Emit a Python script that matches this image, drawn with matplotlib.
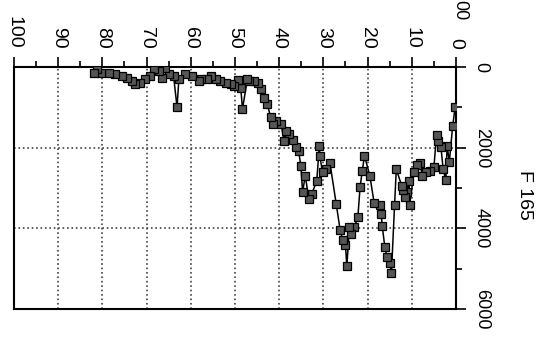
import matplotlib.pyplot as plt
from matplotlib.ticker import MultipleLocator

# horizontal value (0-100, reversed) and depth (0-6000, downwards)
pct = [0.2, 0.75, 1.5, 2.0, 2.3, 2.9, 3.4, 4.0, 4.4, 5.0, 5.9, 6.7, 7.6,
       8.2, 8.9, 9.5, 10.5, 10.6, 11.1, 11.6, 12.0, 12.3, 13.5, 13.9, 14.6,
       15.0, 15.6, 16.1, 16.7, 16.9, 17.3, 18.5, 19.5, 20.7, 21.2, 21.7,
       22.2, 23.0, 23.7, 24.1, 24.7, 25.0, 25.6, 26.2, 27.1, 28.5, 29.4,
       30.2, 30.8, 30.9, 31.5, 32.6, 33.3, 34.1, 34.7, 35.1, 35.6, 36.2,
       36.8, 37.7, 38.5, 38.9, 39.6, 40.8, 41.5, 41.9, 42.7, 43.4, 44.2,
       44.9, 45.7, 46.8, 47.2, 48.3, 48.7, 49.3, 50.2, 51.0, 52.1, 53.3,
       54.4, 55.5, 56.3, 57.8, 58.2, 59.7, 61.2, 62.7, 63.1, 63.9, 65.0,
       65.8, 66.5, 67.3, 68.4, 69.2, 70.3, 71.4, 72.6, 73.3, 74.5, 75.6,
       77.1, 78.6, 80.2, 81.3, 82.0]
depth = [1000, 1460, 2350, 1950, 2800, 2530, 1990, 1830, 1680, 2490, 2570,
         2610, 2690, 2390, 2420, 2610, 3430, 2830, 3100, 3230, 3060, 2940,
         2530, 3430, 5100, 4870, 4710, 4460, 3930, 3640, 3430, 3380, 2690,
         2200, 2570, 2980, 3720, 3970, 4130, 3970, 4940, 4420, 4300, 4050,
         3390, 2390, 2530, 2610, 2200, 1950, 2820, 3140, 3270, 2690, 3100,
         2450, 2080, 1990, 1810, 1660, 1580, 1830, 1400, 1330, 1420, 1250,
         920, 760, 550, 390, 345, 345, 300, 1040, 510, 320, 470, 430, 390,
         345, 300, 220, 300, 300, 345, 220, 180, 300, 1000, 220, 180, 30,
         260, 100, 60, 220, 300, 390, 430, 345, 260, 220, 180, 140, 140,
         60, 140]

x_ticks = [0, 10, 20, 30, 40, 50, 60, 70, 80, 90, 100]
y_ticks = [0, 2000, 4000, 6000]


def main():
    plt.rcParams['font.family'] = ['Liberation Sans', 'DejaVu Sans']
    fig = plt.figure(figsize=(5.42, 3.37), dpi=100)
    ax = fig.add_axes([0.0258, 0.083, 0.8155, 0.718])

    ax.plot(pct, depth, color='black', lw=1.1, marker='s', ms=5.5,
            mfc='#555555', mec='black', mew=0.9, zorder=3)

    ax.set_xlim(100, 0)
    ax.set_ylim(6000, 0)
    ax.set_xticks(x_ticks)
    ax.set_yticks(y_ticks)
    ax.xaxis.set_minor_locator(MultipleLocator(5))
    ax.yaxis.set_minor_locator(MultipleLocator(1000))
    ax.xaxis.tick_top()
    ax.yaxis.tick_right()
    ax.tick_params(axis='both', which='major', direction='out', length=7,
                   width=1.2, color='black')
    ax.tick_params(axis='both', which='minor', direction='out', length=4,
                   width=1.2, color='black')
    ax.tick_params(axis='x', pad=6)
    ax.tick_params(axis='y', pad=5)

    for lab in ax.get_xticklabels():
        lab.set_rotation(-90)
        lab.set_fontsize(14)
        lab.set_va('bottom')
        lab.set_ha('center')
    for lab in ax.get_yticklabels():
        lab.set_rotation(-90)
        lab.set_fontsize(13)
        lab.set_va('center')
        lab.set_ha('left')

    ax.grid(True, which='major', linestyle=':', color='#444444', lw=1.2)
    for s in ax.spines.values():
        s.set_linewidth(1.5)

    fig.text(525 / 542, 1 - 195 / 337, 'F 165', rotation=-90, fontsize=14,
             ha='center', va='center')
    fig.text(460 / 542, 1.0, '00', rotation=-90, fontsize=13,
             ha='center', va='top')

    fig.savefig('out.png', dpi=100)


if __name__ == '__main__':
    main()
